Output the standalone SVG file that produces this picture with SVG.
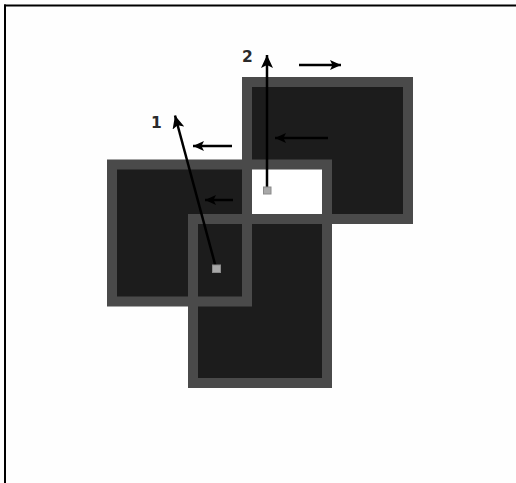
<svg xmlns="http://www.w3.org/2000/svg" width="516" height="483" viewBox="0 0 516 483">
  <defs>
    <style>
      .fill { fill: #1c1c1c; }
      .frame { fill: none; stroke: #4a4a4a; stroke-width: 10; }
      .arrow { stroke: #000; stroke-width: 2.5; fill: none; }
      .handle { fill: #a8a8a8; stroke: #8a8a8a; stroke-width: 1; }
      .label { font-family: "DejaVu Sans", Verdana, sans-serif; font-weight: bold; font-size: 15.5px; fill: #2a2a2a; }
    </style>
    <marker id="head" markerUnits="userSpaceOnUse" markerWidth="14" markerHeight="12" refX="13" refY="6" orient="auto">
      <path d="M0,0 L13,6 L0,12 L3,6 Z" fill="#000"/>
    </marker>
    <marker id="headS" markerUnits="userSpaceOnUse" markerWidth="12" markerHeight="10" refX="11" refY="5" orient="auto">
      <path d="M0,0 L11,5 L0,10 L2.5,5 Z" fill="#000"/>
    </marker>
  </defs>
  <rect width="516" height="483" fill="#fefefe"/>
  <!-- page frame -->
  <line x1="4" y1="5.5" x2="516" y2="5.5" stroke="#000" stroke-width="2"/>
  <line x1="5" y1="4.5" x2="5" y2="483" stroke="#000" stroke-width="2"/>

  <g id="windows">
    <g id="fills">
      <rect class="fill" x="247" y="82" width="161" height="137"/>
      <rect class="fill" x="112" y="164.5" width="135" height="137"/>
      <rect class="fill" x="193" y="219" width="134" height="164"/>
    </g>
    <rect x="247" y="164.5" width="80" height="54.5" fill="#fff"/>
    <g id="windowA"><rect class="frame" x="247" y="82" width="161" height="137"/></g>
    <g id="windowB"><rect class="frame" x="112" y="164.5" width="135" height="137"/></g>
    <g id="windowC"><rect class="frame" x="193" y="219" width="134" height="164"/></g>
    <g id="windowD"><rect class="frame" x="247" y="164.5" width="80" height="54.5"/></g>
  </g>

  <g id="connectors">
    <line class="arrow" x1="267" y1="190" x2="267" y2="55" marker-end="url(#head)"/>
    <line class="arrow" x1="215.5" y1="266" x2="175" y2="115.5" marker-end="url(#head)"/>
    <line class="arrow" x1="299" y1="65" x2="341" y2="65" marker-end="url(#headS)"/>
    <line class="arrow" x1="232" y1="146" x2="193" y2="146" marker-end="url(#headS)"/>
    <line class="arrow" x1="328" y1="138" x2="275" y2="138" marker-end="url(#headS)"/>
    <line class="arrow" x1="233" y1="200" x2="205" y2="200" marker-end="url(#headS)"/>
  </g>

  <g id="handle2"><rect class="handle" x="263.5" y="187" width="7.5" height="7"/></g>
  <g id="handle1"><rect class="handle" x="212.5" y="265" width="8" height="7.5"/></g>

  <g id="labels">
    <text class="label" x="242" y="61.5">2</text>
    <text class="label" x="151" y="127.5">1</text>
  </g>
</svg>
